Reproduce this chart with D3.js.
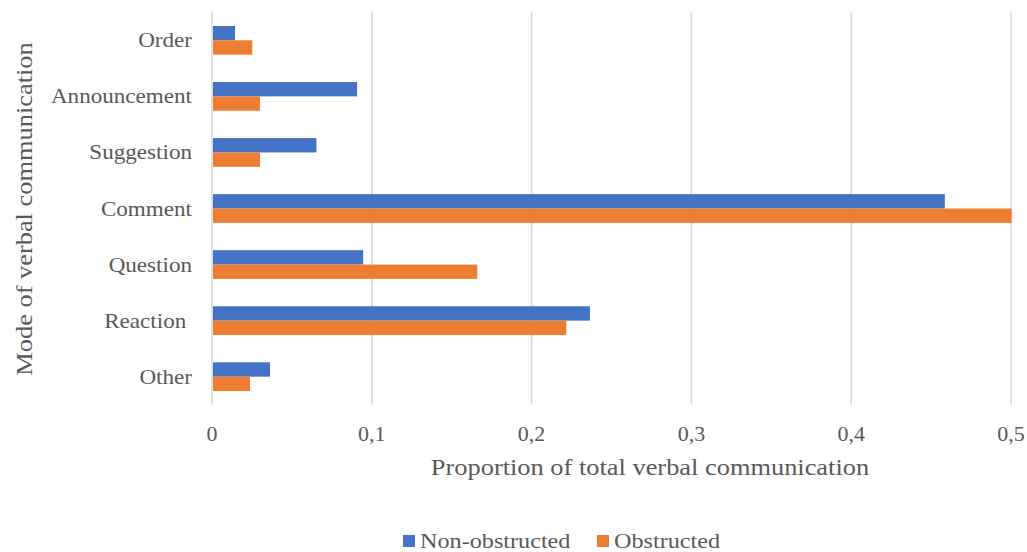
<!DOCTYPE html>
<html>
<head>
<meta charset="utf-8">
<script src="https://cdn.jsdelivr.net/npm/d3@7/dist/d3.min.js"></script>
<style>
  html, body { margin: 0; padding: 0; background: #fff; }
  svg { display: block; }
  text { font-family: "Liberation Serif", "Times New Roman", serif; fill: #595959; }
</style>
</head>
<body>
<svg id="chart" width="1027" height="552"></svg>
<script>
// Modes of verbal communication, top to bottom
const categories = ["Order", "Announcement", "Suggestion", "Comment", "Question", "Reaction ", "Other"];
const seriesNames = ["Non-obstructed", "Obstructed"];
const nonObstructed = [0.0144, 0.0908, 0.0654, 0.4586, 0.0946, 0.2365, 0.0363];
const obstructed    = [0.0252, 0.0300, 0.0300, 0.5004, 0.1660, 0.2217, 0.0238];
const xTicks = [0, 0.1, 0.2, 0.3, 0.4, 0.5];
const xTickLabels = ["0", "0,1", "0,2", "0,3", "0,4", "0,5"];
const xTitle = "Proportion of total verbal communication";
const yTitle = "Mode of verbal communication";

const colors = ["#4472C4", "#ED7D31"];
const stretch = 1.1; // glyphs are drawn slightly wide

const svg = d3.select("#chart");
const plot = { left: 212, right: 1011, top: 12.3, bottom: 404.7 };

const x = d3.scaleLinear().domain([0, 0.5]).range([plot.left, plot.right]);
const y = d3.scaleBand().domain(categories).range([plot.top, plot.bottom])
  .paddingInner(0.488).paddingOuter(0.244);
const ySub = d3.scaleBand().domain(seriesNames).range([0, y.bandwidth()]).padding(0);

// helper: text stretched along its own direction
function wideText(sel, px, py, rotate) {
  return sel.attr("transform", `translate(${px},${py})` + (rotate ? ` rotate(${rotate})` : "") + ` scale(${stretch},1)`);
}

// vertical gridlines
svg.append("g").selectAll("line").data(xTicks).join("line")
  .attr("x1", d => x(d)).attr("x2", d => x(d))
  .attr("y1", plot.top).attr("y2", plot.bottom)
  .attr("stroke", "#d9d9d9").attr("stroke-width", 1.6);

// bars
const rows = categories.map((c, i) => ({ cat: c, vals: [nonObstructed[i], obstructed[i]] }));
const groups = svg.append("g").selectAll("g").data(rows).join("g")
  .attr("transform", d => `translate(0,${y(d.cat)})`);
groups.selectAll("rect").data(d => d.vals.map((v, j) => ({ v, s: seriesNames[j], j })))
  .join("rect")
  .attr("x", x(0) + 1)
  .attr("y", d => ySub(d.s))
  .attr("width", d => x(d.v) - x(0) - 1)
  .attr("height", ySub.bandwidth())
  .attr("fill", d => colors[d.j]);

// category labels
svg.append("g").selectAll("text").data(categories).join("text")
  .each(function (d) {
    wideText(d3.select(this), 192, y(d) + y.bandwidth() / 2 + 7);
  })
  .attr("text-anchor", "end")
  .attr("xml:space", "preserve")
  .style("white-space", "pre")
  .attr("font-size", 21)
  .text(d => d);

// x tick labels
svg.append("g").selectAll("text").data(xTicks).join("text")
  .each(function (d) { wideText(d3.select(this), x(d), 441); })
  .attr("text-anchor", "middle")
  .attr("font-size", 20)
  .text((d, i) => xTickLabels[i]);

// axis titles
wideText(svg.append("text"), 650, 475)
  .attr("text-anchor", "middle").attr("font-size", 24).text(xTitle);
wideText(svg.append("text"), 32, 209, -90)
  .attr("text-anchor", "middle").attr("font-size", 24).text(yTitle);

// legend
const legendItems = [{ name: seriesNames[0], x: 403 }, { name: seriesNames[1], x: 597 }];
const legend = svg.append("g").selectAll("g").data(legendItems).join("g");
legend.append("rect")
  .attr("x", d => d.x).attr("y", 535).attr("width", 12).attr("height", 12)
  .attr("fill", (d, i) => colors[i]);
legend.append("text")
  .each(function (d) { wideText(d3.select(this), d.x + 17, 548); })
  .attr("font-size", 22)
  .text(d => d.name);
</script>
</body>
</html>
